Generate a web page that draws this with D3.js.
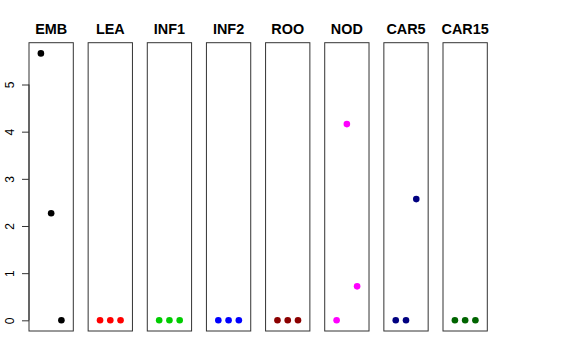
<!DOCTYPE html>
<html><head><meta charset="utf-8">
<script src="https://cdn.jsdelivr.net/npm/d3@7"></script>
<style>body{margin:0;background:#fff}svg{display:block}text{font-family:"Liberation Sans",Arial,sans-serif}</style>
</head><body>
<script>
const categories = ["EMB","LEA","INF1","INF2","ROO","NOD","CAR5","CAR15"];
const colors = ["#000000","#FF0000","#00CD00","#0000FF","#8B0000","#FF00FF","#000080","#006400"];
const values = [
  [5.66, 2.27, 0],
  [0, 0, 0],
  [0, 0, 0],
  [0, 0, 0],
  [0, 0, 0],
  [0, 4.16, 0.72],
  [0, 0, 2.57],
  [0, 0, 0]
];
const yTicks = [0,1,2,3,4,5];

const W = 576, H = 360;
const svg = d3.select("body").append("svg").attr("width", W).attr("height", H);

const panelW = 44.3;
const panelX = d3.scaleLinear().domain([0, 7]).range([29, 443]);
const plotTop = 42.7, plotBottom = 331;
const yMax = d3.max(values.flat());
const pad = 0.04 * yMax;
const y = d3.scaleLinear().domain([-pad, yMax + pad]).range([plotBottom, plotTop]);
const x = d3.scaleLinear().domain([-0.16, 4.16]).range([0, panelW]);

categories.forEach((cat, i) => {
  const g = svg.append("g").attr("transform", `translate(${panelX(i)},0)`);
  g.append("rect").attr("x", 0).attr("y", plotTop).attr("width", panelW).attr("height", plotBottom - plotTop)
    .attr("fill", "none").attr("stroke", "#333").attr("stroke-width", 1);
  g.selectAll("circle").data(values[i]).join("circle")
    .attr("cx", (d, j) => x(j + 1)).attr("cy", d => y(d)).attr("r", 3.3)
    .attr("fill", colors[i]);
  g.append("text").attr("x", panelW / 2).attr("y", 34).attr("text-anchor", "middle")
    .attr("font-size", 14.4).attr("font-weight", "bold").text(cat);
  if (i === 0) {
    const ax = g.append("g").call(d3.axisLeft(y).tickValues(yTicks).tickSize(7).tickPadding(0).tickFormat(d3.format("d")));
    ax.select(".domain").remove();
    ax.selectAll(".tick line").attr("stroke", "#333");
    ax.selectAll(".tick text").attr("font-size", 12).attr("fill", "#000")
      .attr("transform", "rotate(-90)").attr("x", 0).attr("y", -14.6).attr("dy", 0)
      .attr("text-anchor", "middle")
      .attr("font-family", "'Liberation Sans',Arial,sans-serif");
    g.append("line").attr("x1", 0).attr("x2", 0).attr("y1", y(0)).attr("y2", y(5)).attr("stroke", "#333");
  }
});
</script>
</body></html>
